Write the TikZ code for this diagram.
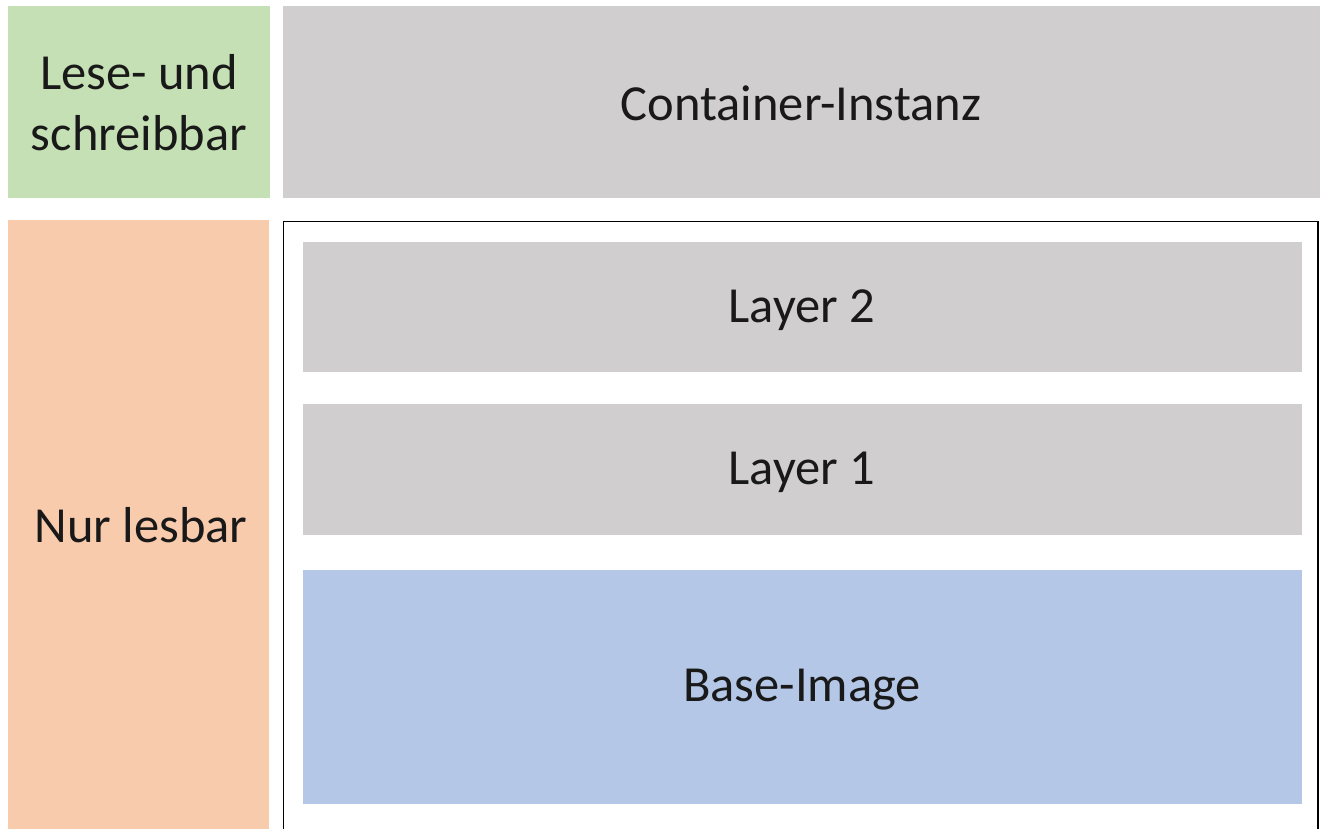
\documentclass[tikz,border=0pt]{standalone}
\usepackage{fontspec}
\setmainfont{Carlito}
\definecolor{cgreen}{HTML}{C5E0B4}
\definecolor{cgray}{HTML}{D0CECE}
\definecolor{corange}{HTML}{F8CBAD}
\definecolor{cblue}{HTML}{B4C7E7}
\begin{document}
\begin{tikzpicture}[x=1pt,y=-1pt,
  blk/.style={draw=none, inner sep=0pt, text=black!90, font=\fontsize{50.5}{61}\selectfont, align=center},
  frame/.style={draw=black, line width=1.5pt}]
\useasboundingbox[fill=white] (0,0) rectangle (1320,829);
\fill[cgreen] (8,6) rectangle (270,198);
\node[blk] (rw) at (139,103) {Lese- und\\schreibbar};
\fill[cgray] (283,6) rectangle (1320,198);
\node[blk] (ci) at (801,103) {Container-Instanz};
\fill[corange] (8,220) rectangle (269,829);
\node[blk] (ro) at (141,525) {Nur lesbar};
\draw[frame] (283.5,221.5) rectangle (1318,835);
\fill[cgray] (303,242) rectangle (1302,372);
\node[blk] (l2) at (802,310) {Layer 2};
\fill[cgray] (303,404) rectangle (1302,535);
\node[blk] (l1) at (802,472) {Layer 1};
\fill[cblue] (303,570) rectangle (1302,804);
\node[blk] (bi) at (802,690) {Base-Image};
\end{tikzpicture}
\end{document}
